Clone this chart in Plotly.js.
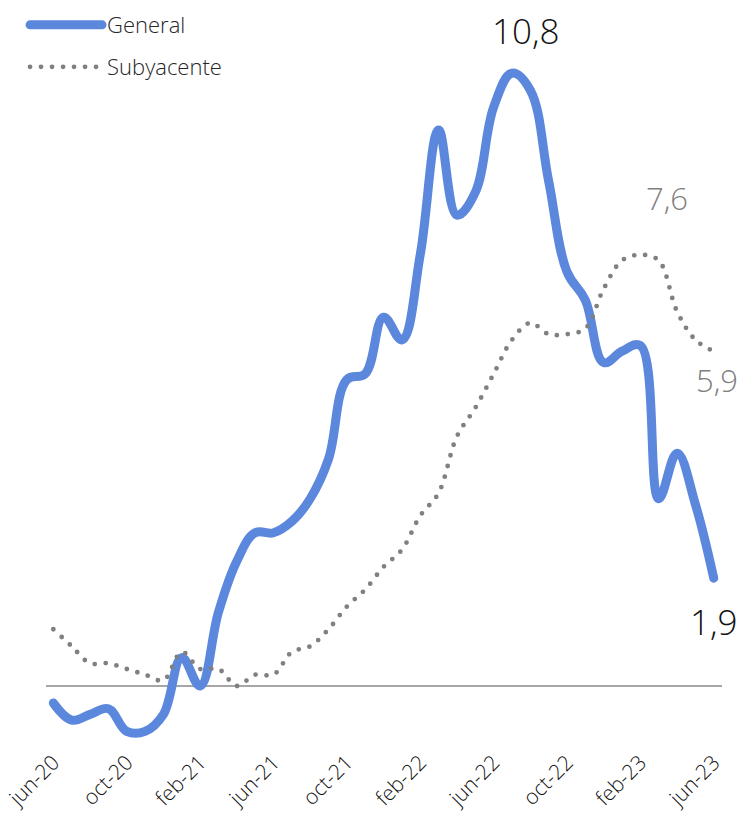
<!DOCTYPE html>
<html>
<head>
<meta charset="utf-8">
<script src="https://cdn.plot.ly/plotly-3.0.1.min.js"></script>
<style>
  html, body { margin: 0; padding: 0; background: #fff; }
  #chart { width: 739px; height: 819px; }
  path.js-line { stroke-linecap: round !important; stroke-linejoin: round !important; }
</style>
</head>
<body>
<div id="chart"></div>
<script>
// Months (x categories), jun-20 .. jun-23
const months = ["jun-20","jul-20","ago-20","sep-20","oct-20","nov-20","dic-20",
  "ene-21","feb-21","mar-21","abr-21","may-21","jun-21","jul-21","ago-21","sep-21","oct-21","nov-21","dic-21",
  "ene-22","feb-22","mar-22","abr-22","may-22","jun-22","jul-22","ago-22","sep-22","oct-22","nov-22","dic-22",
  "ene-23","feb-23","mar-23","abr-23","may-23","jun-23"];
// Tick labels shown on the axis
const tickLabels = ["jun-20","oct-20","feb-21","jun-21","oct-21","feb-22","jun-22","oct-22","feb-23","jun-23"];
// IPC general (tasa anual, %)
const general = [-0.3,-0.6,-0.5,-0.4,-0.8,-0.8,-0.5,
  0.5,0.0,1.3,2.2,2.7,2.7,2.9,3.3,4.0,5.4,5.5,6.5,
  6.1,7.6,9.8,8.3,8.7,10.2,10.8,10.5,8.9,7.3,6.8,5.7,
  5.9,6.0,3.3,4.1,3.2,1.9];
// Inflación subyacente (tasa anual, %)
const subyacente = [1.0,0.7,0.4,0.4,0.3,0.2,0.1,
  0.6,0.3,0.3,0.0,0.2,0.2,0.6,0.7,1.0,1.4,1.7,2.1,
  2.4,3.0,3.4,4.4,4.9,5.5,6.1,6.4,6.2,6.2,6.3,7.0,
  7.5,7.6,7.5,6.6,6.1,5.9];

const idx = months.map((m, i) => i);
const FONT = "'Open Sans', 'Noto Sans', sans-serif";
const W = 300;
const BLUE = "#5B87DD";
const GRAY = "#808080";

const traces = [
  {
    x: idx, y: general, type: "scatter", mode: "lines", name: "General",
    line: { color: BLUE, width: 9, shape: "spline", smoothing: 1.1 },
    legend: "legend", hoverinfo: "skip"
  },
  {
    x: idx, y: subyacente, type: "scatter", mode: "lines", name: "Subyacente",
    line: { color: GRAY, width: 4.8, shape: "spline", smoothing: 1, dash: "0px,11px" },
    legend: "legend2", hoverinfo: "skip"
  }
];

const last = months.length - 1;
const iPeak = general.indexOf(Math.max(...general));
const iCorePeak = subyacente.indexOf(Math.max(...subyacente));
const fmt = v => v.toFixed(1).replace(".", ",");

const annotations = [
  { x: iPeak, y: general[iPeak], text: fmt(general[iPeak]), xshift: 14, yshift: 43,
    font: { family: FONT, size: 35, weight: W, color: "#111" } },
  { x: iCorePeak, y: subyacente[iCorePeak], text: fmt(subyacente[iCorePeak]), xshift: 27, yshift: 57,
    font: { family: FONT, size: 31, weight: W, color: GRAY } },
  { x: last, y: subyacente[last], text: fmt(subyacente[last]), xshift: 3, yshift: -29,
    font: { family: FONT, size: 31, weight: W, color: GRAY } },
  { x: last, y: general[last], text: fmt(general[last]), xshift: 0, yshift: -43,
    font: { family: FONT, size: 35, weight: W, color: "#111" } }
].map(a => Object.assign({ xref: "x", yref: "y", showarrow: false, xanchor: "center", yanchor: "middle" }, a));

const legendCommon = {
  orientation: "v", xanchor: "left", yanchor: "middle",
  bgcolor: "rgba(0,0,0,0)", borderwidth: 0, itemwidth: 72,
  font: { family: FONT, size: 22, weight: W, color: "#262626" }
};

const layout = {
  width: 739, height: 819,
  margin: { l: 46, r: 17, t: 0, b: 74 },
  paper_bgcolor: "#fff", plot_bgcolor: "#fff",
  showlegend: true,
  legend: Object.assign({}, legendCommon, { x: -0.031, y: 0.9664 }),
  legend2: Object.assign({}, legendCommon, { x: -0.031, y: 0.910 }),
  xaxis: {
    type: "linear", range: [-0.4, 36.45],
    tickmode: "array",
    tickvals: tickLabels.map(t => months.indexOf(t)),
    ticktext: tickLabels,
    tickangle: -45, ticks: "", showline: false, showgrid: false, zeroline: false,
    tickfont: { family: FONT, size: 21, weight: W, color: "#111" },
    automargin: false, fixedrange: true
  },
  yaxis: {
    range: [-1.04, 12.09], showticklabels: false, ticks: "", showgrid: false,
    showline: false, zeroline: true, zerolinecolor: "#a6a6a6", zerolinewidth: 2.5,
    automargin: false, fixedrange: true
  },
  annotations: annotations
};

Plotly.newPlot("chart", traces, layout, { staticPlot: true, displayModeBar: false });
</script>
</body>
</html>
